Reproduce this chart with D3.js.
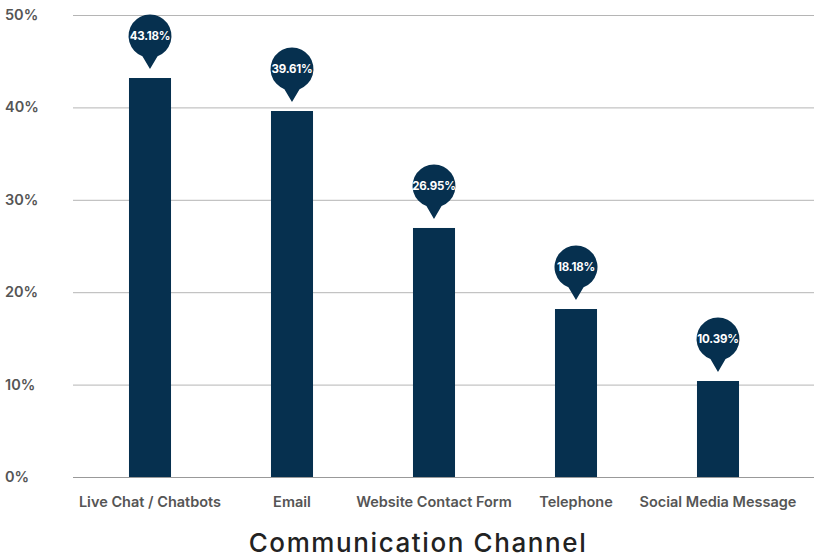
<!DOCTYPE html>
<html>
<head>
<meta charset="utf-8">
<title>Communication Channel</title>
<script src="https://d3js.org/d3.v7.min.js"></script>
<style>
html, body { margin: 0; padding: 0; background: #fff; }
svg { display: block; font-family: Inter, "Open Sans", sans-serif; }
</style>
</head>
<body>
<div id="chart"></div>
<script>
var channels = ["Live Chat / Chatbots", "Email", "Website Contact Form", "Telephone", "Social Media Message"];
var shares = [43.18, 39.61, 26.95, 18.18, 10.39];
var ticks = [0, 10, 20, 30, 40, 50];

var width = 817, height = 558;
var plotLeft = 73, plotRight = 814, plotTop = 15, plotBottom = 477;
var barColor = "#06304f";

var svg = d3.select("#chart").append("svg")
	.attr("width", width)
	.attr("height", height);

var x = d3.scaleBand()
	.domain(channels)
	.range([79, 789])
	.paddingInner(0.704)
	.paddingOuter(0.352);

var y = d3.scaleLinear()
	.domain([0, 50])
	.range([plotBottom, plotTop]);

// grid lines + tick labels
var grid = svg.append("g");
grid.selectAll("line")
	.data(ticks)
	.join("line")
	.attr("x1", plotLeft)
	.attr("x2", plotRight)
	.attr("y1", d => y(d) + 0.5)
	.attr("y2", d => y(d) + 0.5)
	.attr("stroke", d => d === 0 ? "#999" : "#b5b5b5")
	.attr("stroke-width", 1);

grid.selectAll("text")
	.data(ticks)
	.join("text")
	.attr("x", 5)
	.attr("y", d => y(d))
	.attr("dy", "0.35em")
	.attr("font-size", 14.5)
	.attr("font-weight", 600)
	.attr("fill", "#555")
	.text(d => d + "%");

// bars
svg.append("g")
	.selectAll("rect")
	.data(shares)
	.join("rect")
	.attr("x", (d, i) => x(channels[i]))
	.attr("width", x.bandwidth())
	.attr("y", d => y(d))
	.attr("height", d => y(0) - y(d))
	.attr("fill", barColor);

// balloon labels
var r = 21.5;
var pins = svg.append("g")
	.selectAll("g")
	.data(shares)
	.join("g")
	.attr("transform", (d, i) => `translate(${x(channels[i]) + x.bandwidth() / 2},${y(d) - 42})`);

pins.append("path")
	.attr("d", function () {
		var a = 0.36;
		var sx = r * Math.sin(a), sy = r * Math.cos(a);
		return `M${-sx},${sy} A${r},${r} 0 1 1 ${sx},${sy} L0,${33} Z`;
	})
	.attr("fill", barColor);

pins.append("text")
	.attr("text-anchor", "middle")
	.attr("dy", "0.35em")
	.attr("font-size", 11.5)
	.attr("font-weight", 700)
	.attr("fill", "#fff")
	.attr("letter-spacing", "-0.2")
	.text(d => d.toFixed(2) + "%");

// category labels
svg.append("g")
	.selectAll("text")
	.data(channels)
	.join("text")
	.attr("x", d => x(d) + x.bandwidth() / 2)
	.attr("y", 507)
	.attr("text-anchor", "middle")
	.attr("font-size", 14.5)
	.attr("font-weight", 600)
	.attr("fill", "#555")
	.text(d => d);

// axis title
svg.append("text")
	.attr("x", 418)
	.attr("y", 552)
	.attr("text-anchor", "middle")
	.attr("font-size", 26)
	.attr("font-weight", 500)
	.attr("letter-spacing", "1.6")
	.attr("fill", "#222")
	.text("Communication Channel");
</script>
</body>
</html>
